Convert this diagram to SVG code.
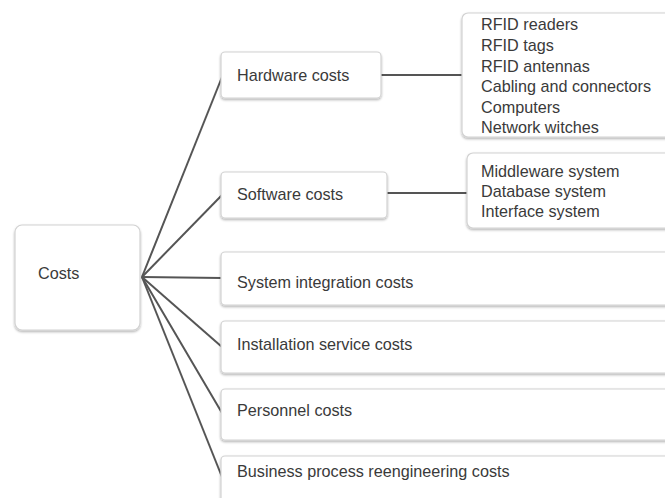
<svg xmlns="http://www.w3.org/2000/svg" width="665" height="498" viewBox="0 0 665 498">
<defs>
<filter id="sh" x="-5%" y="-10%" width="110%" height="130%">
<feDropShadow dx="0" dy="1.5" stdDeviation="1" flood-color="#000" flood-opacity="0.3"/>
</filter>
</defs>
<style>
.box{fill:#fff;stroke:#d2d2d2;stroke-width:1.2;filter:url(#sh)}
.t{font-family:"Liberation Sans",Arial,sans-serif;font-size:16.2px;fill:#3a3a3a}
.c{stroke:#555;stroke-width:2;fill:none}
</style>
<rect width="665" height="498" fill="#fff"/>
<g id="connectors">
<line class="c" x1="142" y1="277" x2="222" y2="77"/>
<line class="c" x1="142" y1="277" x2="222" y2="195"/>
<line class="c" x1="142" y1="277" x2="222" y2="278"/>
<line class="c" x1="142" y1="277" x2="222" y2="347"/>
<line class="c" x1="142" y1="277" x2="222" y2="413"/>
<line class="c" x1="142" y1="277" x2="222" y2="477"/>
<line class="c" x1="381" y1="75" x2="462" y2="75"/>
<line class="c" x1="387" y1="193" x2="467" y2="193"/>
</g>
<g id="costs">
<rect class="box" x="15" y="225" width="125" height="105" rx="7"/>
<text class="t" x="38" y="279">Costs</text>
</g>
<g id="hardware">
<rect class="box" x="221" y="52" width="160" height="46" rx="4"/>
<text class="t" x="237" y="81">Hardware costs</text>
</g>
<g id="hardware-items">
<rect class="box" x="462" y="13" width="230" height="124" rx="6"/>
<text class="t" x="481" y="30">RFID readers</text>
<text class="t" x="481" y="51">RFID tags</text>
<text class="t" x="481" y="72">RFID antennas</text>
<text class="t" x="481" y="92">Cabling and connectors</text>
<text class="t" x="481" y="113">Computers</text>
<text class="t" x="481" y="133">Network witches</text>
</g>
<g id="software">
<rect class="box" x="221" y="172" width="166" height="46" rx="4"/>
<text class="t" x="237" y="200">Software costs</text>
</g>
<g id="software-items">
<rect class="box" x="467" y="153" width="230" height="75" rx="6"/>
<text class="t" x="481" y="177">Middleware system</text>
<text class="t" x="481" y="197">Database system</text>
<text class="t" x="481" y="217">Interface system</text>
</g>
<g id="integration">
<rect class="box" x="221" y="252" width="470" height="53" rx="4"/>
<text class="t" x="237" y="288">System integration costs</text>
</g>
<g id="installation">
<rect class="box" x="221" y="321" width="470" height="52" rx="4"/>
<text class="t" x="237" y="350">Installation service costs</text>
</g>
<g id="personnel">
<rect class="box" x="221" y="389" width="470" height="51" rx="4"/>
<text class="t" x="237" y="416">Personnel costs</text>
</g>
<g id="bpr">
<rect class="box" x="221" y="456" width="470" height="60" rx="4"/>
<text class="t" x="237" y="477">Business process reengineering costs</text>
</g>
</svg>
